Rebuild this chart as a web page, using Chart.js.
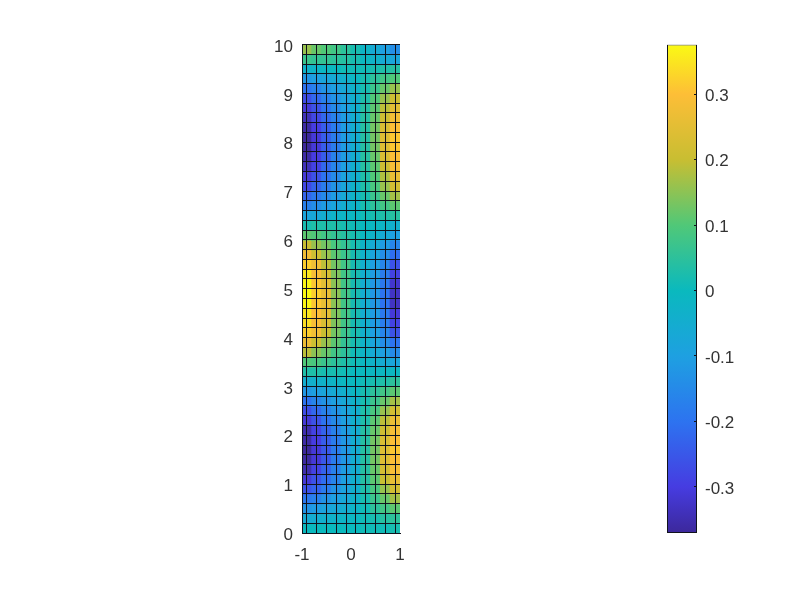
<!DOCTYPE html>
<html>
<head>
<meta charset="utf-8">
<script src="https://cdn.jsdelivr.net/npm/chart.js@4"></script>
<style>
html,body{margin:0;padding:0;background:#fff;width:800px;height:600px;overflow:hidden}
canvas{position:absolute;top:0}
#map{left:0}
#bar{left:600px}
</style>
</head>
<body>
<canvas id="map" width="420" height="600"></canvas>
<canvas id="bar" width="200" height="600"></canvas>
<script>
// x cell centres, left to right
const xCentres = [-0.9,-0.7,-0.5,-0.3,-0.1,0.1,0.3,0.5,0.7,0.9];
const xEdges = [-1,-0.8,-0.6,-0.4,-0.2,0,0.2,0.4,0.6,0.8,1];
// y cell edges, top to bottom (row i spans yEdges[i+1]..yEdges[i])
const yEdges = [10,9.8,9.6,9.4,9.2,9,8.8,8.6,8.4,8.2,8,7.8,7.6,7.4,7.2,7,6.8,6.6,6.4,6.2,6,5.8,5.6,5.4,5.2,5,4.8,4.6,4.4,4.2,4,3.8,3.6,3.4,3.2,3,2.8,2.6,2.4,2.2,2,1.8,1.6,1.4,1.2,1,0.8,0.6,0.4,0.2,0];
// cell values, top row first
const cellRows = [
[.16,.12,.10,.08,.05,.02,-.02,-.06,-.10,-.14],
[.07,.06,.06,.05,.04,.02,-.01,-.03,-.06,-.08],
[-.03,-.02,-.01,0,.01,.01,.01,.02,.03,.04],
[-.12,-.10,-.08,-.06,-.04,-.01,.02,.05,.08,.10],
[-.20,-.17,-.13,-.10,-.07,-.03,.02,.07,.12,.16],
[-.27,-.22,-.17,-.13,-.09,-.04,.03,.10,.16,.21],
[-.31,-.26,-.20,-.15,-.10,-.04,.04,.11,.19,.25],
[-.34,-.28,-.22,-.17,-.11,-.05,.04,.12,.21,.28],
[-.36,-.30,-.24,-.18,-.11,-.05,.04,.13,.23,.30],
[-.37,-.31,-.24,-.18,-.11,-.05,.04,.13,.24,.31],
[-.37,-.31,-.24,-.18,-.11,-.05,.04,.13,.24,.31],
[-.36,-.30,-.24,-.17,-.11,-.05,.04,.12,.23,.30],
[-.34,-.29,-.22,-.16,-.10,-.04,.04,.11,.21,.29],
[-.31,-.26,-.20,-.15,-.09,-.04,.03,.10,.18,.26],
[-.28,-.23,-.18,-.13,-.08,-.03,.03,.09,.16,.22],
[-.23,-.19,-.15,-.11,-.07,-.03,.02,.07,.12,.17],
[-.17,-.14,-.11,-.08,-.05,-.02,.02,.05,.08,.11],
[-.08,-.07,-.05,-.03,-.02,-.01,.01,.02,.03,.04],
[.02,.03,.03,.03,.02,.01,0,-.01,-.02,-.04],
[.11,.10,.08,.06,.04,.02,-.01,-.03,-.06,-.10],
[.20,.16,.13,.09,.06,.02,-.02,-.06,-.11,-.16],
[.28,.21,.16,.11,.07,.02,-.03,-.08,-.14,-.21],
[.32,.27,.19,.13,.08,.02,-.04,-.10,-.16,-.26],
[.35,.29,.22,.14,.08,.02,-.04,-.11,-.18,-.29],
[.37,.31,.25,.15,.08,.02,-.05,-.12,-.19,-.32],
[.375,.32,.26,.15,.08,.02,-.05,-.12,-.20,-.33],
[.37,.31,.26,.15,.08,.02,-.05,-.12,-.20,-.33],
[.35,.30,.25,.14,.08,.02,-.05,-.11,-.19,-.31],
[.34,.29,.23,.14,.08,.02,-.04,-.11,-.18,-.29],
[.32,.28,.20,.13,.07,.02,-.04,-.10,-.16,-.26],
[.27,.21,.16,.11,.06,.02,-.03,-.08,-.14,-.20],
[.19,.15,.12,.08,.05,.01,-.02,-.06,-.10,-.15],
[.10,.09,.07,.05,.03,.01,-.01,-.03,-.06,-.08],
[.03,.03,.02,.02,.01,0,0,-.01,-.01,-.01],
[-.05,-.04,-.03,-.02,-.01,0,.01,.02,.03,.05],
[-.12,-.10,-.08,-.06,-.04,-.01,.02,.05,.08,.11],
[-.20,-.16,-.13,-.10,-.07,-.03,.02,.07,.12,.17],
[-.27,-.22,-.17,-.13,-.09,-.04,.03,.09,.16,.22],
[-.31,-.26,-.20,-.15,-.10,-.04,.03,.11,.19,.27],
[-.35,-.29,-.23,-.17,-.11,-.05,.04,.12,.21,.29],
[-.36,-.30,-.24,-.18,-.12,-.05,.04,.13,.23,.30],
[-.37,-.31,-.25,-.18,-.12,-.05,.04,.13,.24,.31],
[-.365,-.31,-.25,-.18,-.12,-.05,.04,.13,.24,.30],
[-.35,-.29,-.23,-.17,-.11,-.05,.04,.12,.22,.29],
[-.31,-.26,-.21,-.16,-.10,-.04,.04,.11,.20,.26],
[-.26,-.23,-.18,-.13,-.09,-.04,.03,.09,.16,.22],
[-.19,-.17,-.13,-.10,-.07,-.03,.02,.07,.12,.17],
[-.13,-.11,-.09,-.07,-.05,-.02,.01,.05,.08,.11],
[-.06,-.05,-.04,-.03,-.02,-.01,.01,.02,.04,.05],
[0,0,0,0,0,0,.01,.01,.01,.02]
];
const xTicks = [-1,0,1];
const yTicks = [0,1,2,3,4,5,6,7,8,9,10];
const barTicks = [-0.3,-0.2,-0.1,0,0.1,0.2,0.3];
const barLabels = ['-0.3','-0.2','-0.1','0','0.1','0.2','0.3'];
const colorMin = -0.3705;
const colorMax = 0.376;
const stopPositions = [0,0.094,0.228,0.362,0.496,0.63,0.764,0.898,1];
const stopColors = [[60,40,155],[70,60,225],[45,115,240],[30,160,225],[10,185,190],[80,200,120],[200,190,50],[253,190,55],[250,250,20]];

function colorFor(v){
  const t = Math.max(0,Math.min(1,(v-colorMin)/(colorMax-colorMin)));
  let i = 0;
  while(i < stopPositions.length-2 && t > stopPositions[i+1]) i++;
  const f = (t-stopPositions[i])/(stopPositions[i+1]-stopPositions[i]);
  const c = stopColors[i].map((a,k)=>Math.round(a+(stopColors[i+1][k]-a)*f));
  return `rgb(${c[0]},${c[1]},${c[2]})`;
}
Chart.defaults.font.family = '"Liberation Sans", Arial, sans-serif';
Chart.defaults.font.size = 17;
Chart.defaults.color = '#333333';

const lineColor = '#10121c';
const mapDatasets = cellRows.map((row,r)=>({
  data: row.map((v,c)=>({x:xCentres[c], y:[yEdges[r+1],yEdges[r]]})),
  backgroundColor: row.map(colorFor),
  borderWidth: 0,
  borderSkipped: false,
  inflateAmount: 0.5,
  barPercentage: 1,
  categoryPercentage: 1
}));

new Chart(document.getElementById('map'),{
  type:'bar',
  data:{datasets:mapDatasets},
  options:{
    responsive:false, animation:false, devicePixelRatio:1,
    layout:{padding:{top:44.5,right:20,left:0,bottom:0}},
    plugins:{legend:{display:false},tooltip:{enabled:false},title:{display:false}},
    scales:{
      x:{type:'linear',stacked:true,min:-1,max:1,offset:false,
        afterBuildTicks(s){s.ticks=xEdges.map(v=>({value:v}));},
        afterFit(s){s.height=67;},
        grid:{display:true,color:lineColor,lineWidth:1,z:1,drawTicks:false},
        border:{display:true,color:lineColor,width:1,z:1},
        ticks:{padding:12,maxRotation:0,autoSkip:false,callback:v=>xTicks.includes(v)?String(v):''}},
      y:{type:'linear',min:0,max:10,
        afterBuildTicks(s){s.ticks=[...yEdges].reverse().map(v=>({value:v}));},
        afterFit(s){s.width=302;},
        grid:{display:true,color:lineColor,lineWidth:1,z:1,drawTicks:false},
        border:{display:true,color:lineColor,width:1,z:1},
        ticks:{padding:9,labelOffset:2.5,autoSkip:false,callback:v=>yTicks.includes(v)?String(v):''}}
    }
  }
});

new Chart(document.getElementById('bar'),{
  type:'bar',
  data:{labels:['c'],datasets:[{
    data:[[colorMin,colorMax]],
    barPercentage:1,categoryPercentage:1,
    borderColor:lineColor,borderWidth:1,borderSkipped:false,inflateAmount:0,
    backgroundColor(ctx){
      const y = ctx.chart.scales.y;
      const y0 = y ? y.getPixelForValue(colorMin) : NaN;
      const y1 = y ? y.getPixelForValue(colorMax) : NaN;
      if(!isFinite(y0) || !isFinite(y1)) return '#888';
      const g = ctx.chart.ctx.createLinearGradient(0,y0,0,y1);
      stopPositions.forEach((p,i)=>{const c=stopColors[i];g.addColorStop(p,`rgb(${c[0]},${c[1]},${c[2]})`);});
      return g;
    }
  }]},
  options:{
    responsive:false, animation:false, devicePixelRatio:1,
    layout:{padding:{top:44.5,left:67,right:0,bottom:67}},
    plugins:{legend:{display:false},tooltip:{enabled:false},title:{display:false}},
    scales:{
      x:{display:false},
      y:{type:'linear',position:'right',min:colorMin,max:colorMax,
        afterBuildTicks(s){s.ticks=barTicks.map(v=>({value:v}));},
        afterFit(s){s.width=103;},
        grid:{drawOnChartArea:false,drawTicks:true,tickLength:-3,color:lineColor,z:1},
        border:{display:false},
        ticks:{padding:11,labelOffset:2,autoSkip:false,callback:(v,i)=>barLabels[i]}}
    }
  }
});
</script>
</body>
</html>
